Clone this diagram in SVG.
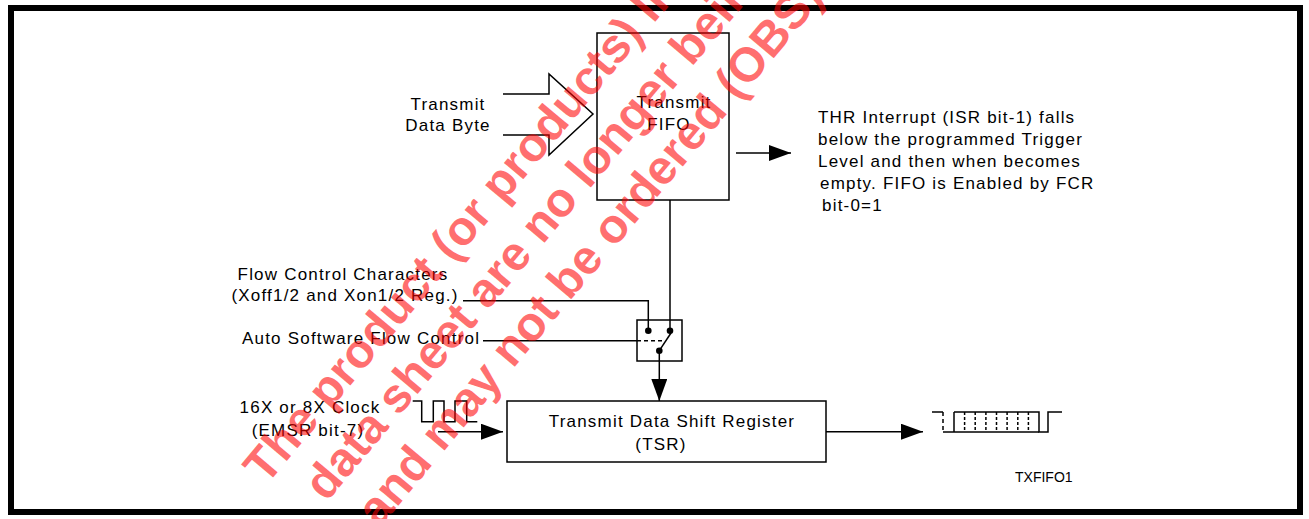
<svg xmlns="http://www.w3.org/2000/svg" width="1309" height="519" viewBox="0 0 1309 519">
<style>
.t{font-family:"Liberation Sans",Arial,sans-serif;font-size:17px;letter-spacing:1.2px;fill:#000}
.s{font-family:"Liberation Sans",Arial,sans-serif;font-size:14px;fill:#000}
.ln{fill:none;stroke:#000;stroke-width:1.5}
.dash{fill:none;stroke:#000;stroke-width:1.5;stroke-dasharray:4 3}
.wm{font-family:"Liberation Sans",Arial,sans-serif;font-weight:bold;font-size:48px;fill:#ff0000;fill-opacity:0.57}
</style>
<defs>
<marker id="ah" markerUnits="userSpaceOnUse" viewBox="0 0 22 16" refX="22" refY="8" markerWidth="22" markerHeight="16" orient="auto">
<path d="M0,0 L22,8 L0,16 Z" fill="#000"/>
</marker>
</defs>
<rect width="1309" height="519" fill="#fff"/>
<rect id="frame" x="11" y="8" width="1289" height="504" fill="none" stroke="#000" stroke-width="6"/>

<g id="data-in">
<path class="ln" d="M503,94 H549 V74 L593,114 L549,155 V135 H503"/>
<text class="t" x="448" y="110" text-anchor="middle">Transmit</text>
<text class="t" x="448" y="131" text-anchor="middle">Data Byte</text>
</g>

<g id="fifo">
<rect class="ln" x="597" y="33" width="132" height="167"/>
<text class="t" x="674" y="108" text-anchor="middle">Transmit</text>
<text class="t" x="669" y="130" text-anchor="middle">FIFO</text>
</g>

<g id="thr-note">
<text class="t" x="818" y="123">THR Interrupt (ISR bit-1) falls</text>
<text class="t" x="818" y="145">below the programmed Trigger</text>
<text class="t" x="818" y="167">Level and then when becomes</text>
<text class="t" x="820" y="189">empty. FIFO is Enabled by FCR</text>
<text class="t" x="822" y="211">bit-0=1</text>
</g>

<g id="flow-chars">
<text class="t" x="343" y="280" text-anchor="middle">Flow Control Characters</text>
<text class="t" x="345" y="301" text-anchor="middle">(Xoff1/2 and Xon1/2 Reg.)</text>
</g>

<g id="auto-sw">
<text class="t" x="242" y="344">Auto Software Flow Control</text>
</g>

<g id="switch">
<rect class="ln" x="637" y="320" width="45" height="41"/>
<path class="dash" d="M637,340.7 H663"/>
<path class="ln" d="M659.3,350.7 L671,333"/>
<circle cx="648.3" cy="330.7" r="3.3" fill="#000"/>
<circle cx="670" cy="330.7" r="3.3" fill="#000"/>
<circle cx="659.3" cy="350.7" r="3.3" fill="#000"/>
</g>

<g id="clock">
<text class="t" x="310" y="413" text-anchor="middle">16X or 8X Clock</text>
<text class="t" x="308" y="436" text-anchor="middle">(EMSR bit-7)</text>
<path class="ln" d="M412.7,401 H421.7 V421.7 H433.3 V401 H444 V421.7 H455 V401 H466.7 V421.7 H477.3"/>
</g>

<g id="tsr">
<rect class="ln" x="507" y="401" width="319" height="61"/>
<text class="t" x="672" y="427" text-anchor="middle">Transmit Data Shift Register</text>
<text class="t" x="661" y="450" text-anchor="middle">(TSR)</text>
</g>

<g id="serial-out">
<path class="ln" d="M932,412 H943"/>
<path class="dash" d="M943,412 V432" stroke-dasharray="3 2"/>
<path class="ln" d="M943,432 H1039"/>
<path class="ln" d="M954,412 V432"/>
<path class="ln" d="M954,412 H1039 V432 H1048 V412 H1062"/>
<g class="dash" style="stroke-dasharray:3 2">
<path d="M964.6,412 V432"/><path d="M975.2,412 V432"/><path d="M985.9,412 V432"/><path d="M996.5,412 V432"/><path d="M1007.1,412 V432"/><path d="M1017.8,412 V432"/><path d="M1028.4,412 V432"/>
</g>
</g>

<g id="label-txfifo1">
<text class="s" x="1015" y="481.5">TXFIFO1</text>
</g>

<g id="connectors">
<path class="ln" d="M463,300.7 H648.3 V330.7"/>
<path class="ln" d="M670,200 V330.7"/>
<path class="ln" d="M483,340.7 H637"/>
<path class="ln" d="M659.3,350.7 V401" marker-end="url(#ah)"/>
<path class="ln" d="M736,153 H791" marker-end="url(#ah)"/>
<path class="ln" d="M438,431.7 H503" marker-end="url(#ah)"/>
<path class="ln" d="M826,431.7 H923" marker-end="url(#ah)"/>
</g>

<g id="watermark" transform="translate(266,486) rotate(-50)">
<text class="wm" x="0" y="0">The product (or products) listed</text>
<text class="wm" x="26" y="57">data sheet are no longer being</text>
<text class="wm" x="40" y="114">and may not be ordered (OBS)</text>
</g>
</svg>
